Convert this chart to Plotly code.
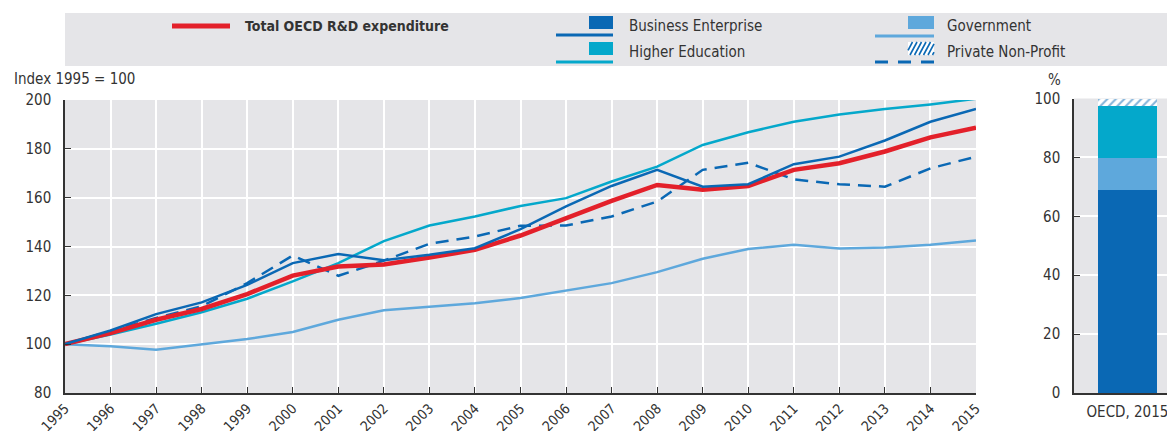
import plotly.graph_objects as go

# ---------------- data ----------------
years = list(range(1995, 2016))
total_oecd = [100, 104.5, 110.0, 114.4, 120.5, 128.1, 131.8, 132.6, 135.5, 138.6, 144.5,
              151.6, 158.7, 165.2, 163.2, 164.8, 171.4, 174.1, 178.9, 184.7, 188.7]
business = [100, 105.6, 112.3, 117.1, 124.3, 133.2, 136.9, 134.4, 136.6, 139.3, 147.1,
            156.4, 164.8, 171.4, 164.5, 165.5, 173.7, 176.8, 183.4, 191.1, 196.3]
higher_edu = [100, 103.9, 108.4, 113.1, 118.6, 125.7, 133.2, 142.2, 148.6, 152.3, 156.6,
              159.8, 166.6, 172.7, 181.6, 186.8, 191.1, 194.1, 196.3, 198.2, 200.5]
government = [100, 99.1, 97.7, 99.8, 102.1, 105.0, 110.0, 113.9, 115.5, 116.8, 118.9,
              121.9, 125.0, 129.5, 135.0, 139.0, 140.7, 139.2, 139.6, 140.7, 142.5]
private_np = [100, 105.2, 110.7, 115.5, 125.0, 136.3, 128.0, 134.2, 141.1, 144.1, 148.5,
              148.6, 152.3, 158.4, 171.4, 174.3, 167.5, 165.5, 164.5, 172.0, 176.8]

bar_category = ["OECD, 2015"]
share_business = [68.8]
share_government = [11.1]
share_higher_edu = [17.4]
share_private_np = [2.7]

# ---------------- styles ----------------
W, H = 1167, 431
FONT = "DejaVu Sans Condensed, Liberation Sans Narrow, Arial Narrow, sans-serif"
TXT = "#333333"
BG = "#e5e5e8"
C_TOTAL = "#e3202a"
C_BUS = "#0a68b4"
C_HIGH = "#04a8cb"
C_GOV = "#5ea8dc"
FS = 15


def px(x):
    return x / W


def py(y):
    return 1 - y / H


fig = go.Figure()

fig.add_trace(go.Scatter(x=years, y=government, mode="lines", name="Government",
                         line=dict(color=C_GOV, width=2.5), xaxis="x", yaxis="y"))
fig.add_trace(go.Scatter(x=years, y=higher_edu, mode="lines", name="Higher Education",
                         line=dict(color=C_HIGH, width=2.5), xaxis="x", yaxis="y"))
fig.add_trace(go.Scatter(x=years, y=private_np, mode="lines", name="Private Non-Profit",
                         line=dict(color=C_BUS, width=2.5, dash="13px,8px"), xaxis="x", yaxis="y"))
fig.add_trace(go.Scatter(x=years, y=total_oecd, mode="lines", name="Total OECD R&D expenditure",
                         line=dict(color=C_TOTAL, width=4.5), xaxis="x", yaxis="y"))
fig.add_trace(go.Scatter(x=years, y=business, mode="lines", name="Business Enterprise",
                         line=dict(color=C_BUS, width=2.5), xaxis="x", yaxis="y"))

# stacked bar (numeric x so the bar can sit where it does in the original)
bx = [0]
fig.add_trace(go.Bar(x=bx, y=share_business, width=0.6, marker=dict(color=C_BUS, line=dict(width=0)),
                     xaxis="x2", yaxis="y2", name="Business Enterprise"))
fig.add_trace(go.Bar(x=bx, y=share_government, width=0.6, marker=dict(color=C_GOV, line=dict(width=0)),
                     xaxis="x2", yaxis="y2", name="Government"))
fig.add_trace(go.Bar(x=bx, y=share_higher_edu, width=0.6, marker=dict(color=C_HIGH, line=dict(width=0)),
                     xaxis="x2", yaxis="y2", name="Higher Education"))
fig.add_trace(go.Bar(x=bx, y=share_private_np, width=0.6,
                     marker=dict(color="white", line=dict(width=0),
                                 pattern=dict(shape="/", fgcolor=C_BUS, bgcolor="white",
                                              size=6, solidity=0.35)),
                     xaxis="x2", yaxis="y2", name="Private Non-Profit"))

axis_common = dict(
    showline=True, linecolor=TXT, linewidth=1.5, ticks="inside", ticklen=6,
    tickcolor=TXT, tickwidth=1.2, showgrid=True, gridcolor="white", gridwidth=1.5,
    zeroline=False, tickfont=dict(family=FONT, size=FS, color=TXT), automargin=False,
    fixedrange=True, ticklabeloverflow="allow",
)

ydom_bottom = 38 / H
fig.update_layout(
    width=W, height=H, margin=dict(l=0, r=0, t=0, b=0),
    paper_bgcolor="white", plot_bgcolor=BG, showlegend=False, barmode="stack",
    font=dict(family=FONT, size=FS, color=TXT),
    xaxis=dict(axis_common, domain=[px(65), px(976)], range=[1995, 2015], dtick=1,
               tick0=1995, tickangle=-45, anchor="y", ticklabelstandoff=0,
               tickfont=dict(family=FONT, size=14, color=TXT)),
    yaxis=dict(axis_common, domain=[ydom_bottom, py(100)], range=[80, 200], dtick=20,
               anchor="x", ticklabelstandoff=9),
    xaxis2=dict(axis_common, domain=[px(1074), 1.0], range=[-0.54, 0.40],
                tickvals=[0], ticktext=bar_category, ticks="", showgrid=False,
                anchor="y2", ticklabelstandoff=4),
    yaxis2=dict(axis_common, domain=[ydom_bottom, py(98.5)], range=[0, 100], dtick=20,
                anchor="x2", ticklabelstandoff=9),
)

# ---------------- custom legend ----------------
shapes = []
annotations = []
shapes.append(dict(type="rect", xref="paper", yref="paper", x0=px(65), x1=1.0,
                   y0=py(66), y1=py(13), fillcolor=BG, line=dict(width=0), layer="below"))


def legend_line(x0, x1, y, color, width, dash="solid"):
    shapes.append(dict(type="line", xref="paper", yref="paper", x0=px(x0), x1=px(x1),
                       y0=py(y), y1=py(y), line=dict(color=color, width=width, dash=dash)))


def legend_square(x0, x1, y0, y1, color):
    shapes.append(dict(type="rect", xref="paper", yref="paper", x0=px(x0), x1=px(x1),
                       y0=py(y1), y1=py(y0), fillcolor=color, line=dict(width=0)))


def legend_text(x, y, text, bold=False, size=FS):
    annotations.append(dict(xref="paper", yref="paper", x=px(x), y=py(y), xanchor="left",
                            yanchor="middle", showarrow=False,
                            text=f"<b>{text}</b>" if bold else text,
                            font=dict(family=FONT, size=size, color=TXT)))


def hatched_square(x0, x1, y0, y1, color, step=4.5, slant=7.0):
    # white box with diagonal strokes clipped to the box (pixel coordinates)
    legend_square(x0, x1, y0, y1, "white")
    s = x0 - slant
    while s < x1:
        ax, ay, bx_, by = s, y1, s + slant, y0

        def at(xv):
            t = (xv - ax) / (bx_ - ax)
            return ay + t * (by - ay)
        cx0, cx1 = max(ax, x0), min(bx_, x1)
        if cx1 > cx0:
            shapes.append(dict(type="line", xref="paper", yref="paper",
                               x0=px(cx0), y0=py(at(cx0)), x1=px(cx1), y1=py(at(cx1)),
                               line=dict(color=color, width=1.6)))
        s += step


legend_line(172, 230, 26, C_TOTAL, 5)
legend_text(243, 26, "Total OECD R&D expenditure", bold=True, size=14)

legend_square(589, 613, 16, 29, C_BUS)
legend_line(556, 613, 35, C_BUS, 3)
legend_text(627, 26, "Business Enterprise")

legend_square(589, 613, 42, 55, C_HIGH)
legend_line(556, 613, 62, C_HIGH, 3)
legend_text(627, 52, "Higher Education")

legend_square(908, 934, 16, 29, C_GOV)
legend_line(875, 934, 36, C_GOV, 3)
legend_text(945, 26, "Government")

hatched_square(908, 934, 42, 55, C_BUS)
legend_line(875, 934, 62, C_BUS, 3, dash="13px,10px")
legend_text(945, 52, "Private Non-Profit")

annotations.append(dict(xref="paper", yref="paper", x=px(12), y=py(79), xanchor="left",
                        yanchor="middle", showarrow=False, text="Index 1995 = 100",
                        font=dict(family=FONT, size=FS, color=TXT)))
annotations.append(dict(xref="paper", yref="paper", x=px(1054), y=py(80), xanchor="center",
                        yanchor="middle", showarrow=False, text="%",
                        font=dict(family=FONT, size=FS, color=TXT)))

fig.update_layout(shapes=shapes, annotations=annotations)

fig.write_html("out.html", config={"displayModeBar": False},
               post_script="document.body.style.margin='0';")
